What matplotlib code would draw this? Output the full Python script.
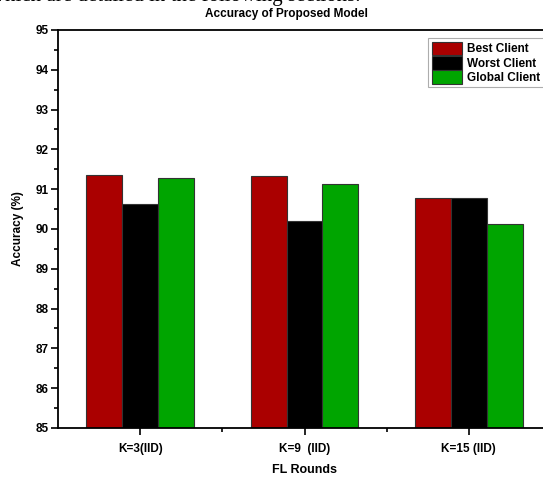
import numpy as np
import matplotlib.pyplot as plt

# ---------- data ----------
groups = ["K=3(IID)", "K=9  (IID)", "K=15 (IID)"]
series = ["Best Client", "Worst Client", "Global Client"]
best   = [91.35, 91.32, 90.79]
worst  = [90.63, 90.20, 90.79]
glob   = [91.28, 91.14, 90.13]
colors = ["#aa0000", "#000000", "#00a500"]

plt.rcParams["font.family"] = ["Liberation Sans", "DejaVu Sans"]
plt.rcParams["font.weight"] = "bold"

W, H = 543, 480
fig = plt.figure(figsize=(W / 100, H / 100), dpi=100)
ax = fig.add_axes([58 / W, (H - 428) / H, 493 / W, 398 / H])

x = np.arange(1, len(groups) + 1)
bw = 0.218
for i, (vals, name, c) in enumerate(zip([best, worst, glob], series, colors)):
    ax.bar(x + (i - 1) * bw, np.array(vals) - 85, bw, bottom=85, color=c,
           edgecolor="#333333", linewidth=0.8, label=name)

ax.set_xlim(0.5, 3.5)
ax.set_ylim(85, 95)
ax.set_yticks(range(85, 96))
ax.set_yticks(np.arange(85.5, 95, 1), minor=True)
ax.set_xticks(x)
ax.set_xticklabels(groups)
ax.set_xticks([1.5, 2.5], minor=True)
ax.tick_params(axis="both", which="major", length=5, width=1.2, labelsize=8.5, pad=2)
ax.tick_params(axis="both", which="minor", length=3, width=1.2)
ax.tick_params(axis="x", pad=6)
for s in ax.spines.values():
    s.set_linewidth(1.3)

ax.set_ylabel("Accuracy (%)", fontsize=8.5, fontweight="bold", labelpad=8)
ax.set_xlabel("FL Rounds", fontsize=9, fontweight="bold", labelpad=6)

fig.text(286 / W, 1 - 14 / H, "Accuracy of Proposed Model", ha="center",
         va="center", fontsize=8.5, fontweight="bold")

# cropped document text at the very top
fig.text(-10 / W, 1 - 1 / H, "which are detailed in the following sections.",
         family="Liberation Serif", fontweight="normal", fontsize=15,
         va="baseline", ha="left")

leg = ax.legend(loc="upper left", bbox_to_anchor=(428 / W, 1 - 38 / H),
                bbox_transform=fig.transFigure, fontsize=8.5, frameon=True,
                fancybox=False, edgecolor="#999999", handlelength=2.6,
                handleheight=1.4, handletextpad=0.4, labelspacing=0.05,
                borderpad=0.3, borderaxespad=0)
leg.get_frame().set_linewidth(0.8)

fig.savefig("out.png", dpi=100)
